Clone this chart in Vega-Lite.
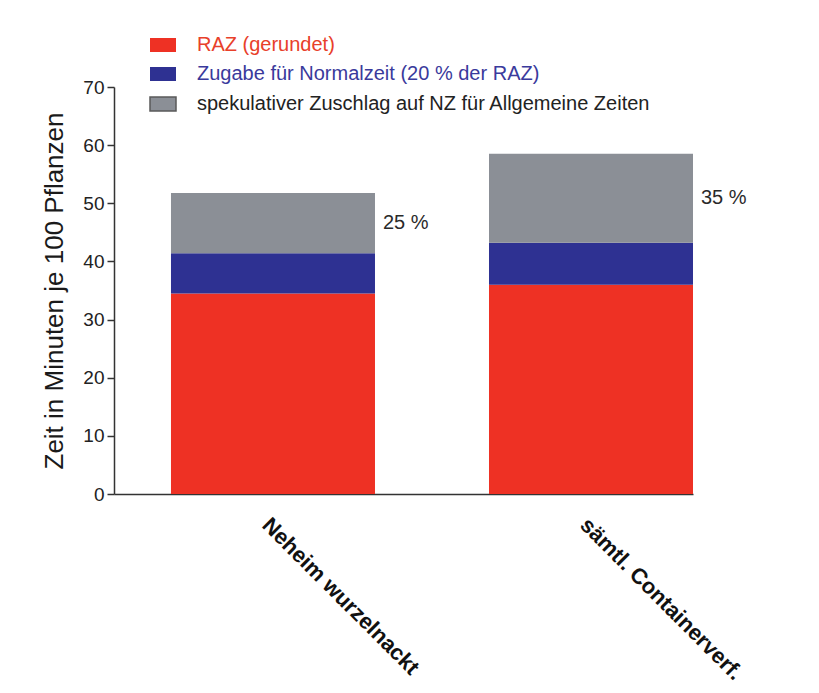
{
  "$schema": "https://vega.github.io/schema/vega-lite/v6.json",
  "autosize": {"type": "none"},
  "width": 579,
  "height": 407,
  "padding": {"left": 114, "top": 87, "right": 126, "bottom": 199},
  "background": "white",
  "config": {
    "view": {"stroke": null},
    "font": "Liberation Sans"
  },
  "datasets": {
    "bars": [
      {"cat": "Neheim wurzelnackt", "comp": "RAZ (gerundet)", "k": "raz", "ord": 1, "value": 34.5},
      {"cat": "Neheim wurzelnackt", "comp": "Zugabe für Normalzeit (20 % der RAZ)", "k": "zug", "ord": 2, "value": 6.9},
      {"cat": "Neheim wurzelnackt", "comp": "spekulativer Zuschlag auf NZ für Allgemeine Zeiten", "k": "spek", "ord": 3, "value": 10.35},
      {"cat": "sämtl. Containerverf.", "comp": "RAZ (gerundet)", "k": "raz", "ord": 1, "value": 36.0},
      {"cat": "sämtl. Containerverf.", "comp": "Zugabe für Normalzeit (20 % der RAZ)", "k": "zug", "ord": 2, "value": 7.2},
      {"cat": "sämtl. Containerverf.", "comp": "spekulativer Zuschlag auf NZ für Allgemeine Zeiten", "k": "spek", "ord": 3, "value": 15.3}
    ],
    "ann": [
      {"cat": "Neheim wurzelnackt", "label": "25 %", "mid": 46.6},
      {"cat": "sämtl. Containerverf.", "label": "35 %", "mid": 50.85}
    ]
  },
  "layer": [
    {
      "data": {"name": "bars"},
      "mark": {"type": "bar", "stroke": "#5a5a5a"},
      "encoding": {
        "x": {
          "field": "cat",
          "type": "nominal",
          "sort": null,
          "scale": {"paddingInner": 0.3585, "paddingOuter": 0.0896, "align": 1},
          "axis": {
            "title": null,
            "labelAngle": 45,
            "labelAlign": "left",
            "labelBaseline": "top",
            "labelFontWeight": "bold",
            "labelFontSize": 22,
            "labelColor": "#111",
            "labelPadding": 20,
            "ticks": false,
            "tickSize": 0,
            "domainColor": "#333",
            "domainWidth": 1.5,
            "labelLimit": 400
          }
        },
        "y": {
          "field": "value",
          "type": "quantitative",
          "aggregate": "sum",
          "stack": "zero",
          "scale": {"domain": [0, 70], "nice": false},
          "axis": {
            "title": "Zeit in Minuten je 100 Pflanzen",
            "titleFontSize": 26,
            "titleFontWeight": "normal",
            "titleColor": "#1a1a1a",
            "titlePadding": 15,
            "values": [0, 5, 10, 15, 20, 25, 30, 35, 40, 45, 50, 55, 60, 65, 70],
            "labelExpr": "datum.value % 10 === 0 ? datum.label : ''",
            "labelFontSize": 19,
            "labelColor": "#222",
            "labelPadding": 3,
            "tickSize": {"condition": {"test": "datum.value % 10 === 0", "value": 7}, "value": 4},
            "tickColor": "#333",
            "tickWidth": 1.5,
            "domainColor": "#333",
            "domainWidth": 1.5,
            "grid": false
          }
        },
        "color": {
          "field": "comp",
          "type": "nominal",
          "scale": {
            "domain": ["RAZ (gerundet)", "Zugabe für Normalzeit (20 % der RAZ)", "spekulativer Zuschlag auf NZ für Allgemeine Zeiten"],
            "range": ["#ee3124", "#2e3192", "#8b8f96"]
          },
          "legend": {
            "title": null,
            "orient": "none",
            "legendX": 39,
            "legendY": -52,
            "symbolType": "M-1,-0.54H1V0.54H-1Z",
            "symbolSize": 676,
            "symbolOpacity": 1,
            "symbolStrokeColor": "#5a5a5a",
            "symbolStrokeWidth": {"expr": "datum.index === 2 ? 1.5 : 0"},
            "labelColor": {"expr": "datum.index === 0 ? '#e8402a' : (datum.index === 1 ? '#3a3a9c' : '#222222')"},
            "labelFontSize": 20,
            "labelOffset": 24,
            "labelLimit": 600,
            "rowPadding": 9
          }
        },
        "order": {"field": "ord", "type": "quantitative"},
        "strokeWidth": {"condition": {"test": "datum.k === 'spek'", "value": 1.5}, "value": 0}
      }
    },
    {
      "data": {"name": "ann"},
      "mark": {"type": "text", "align": "left", "baseline": "middle", "dx": 110, "fontSize": 20, "color": "#2a2a2a"},
      "encoding": {
        "x": {"field": "cat", "type": "nominal", "sort": null},
        "y": {"field": "mid", "type": "quantitative"},
        "text": {"field": "label"}
      }
    }
  ]
}
